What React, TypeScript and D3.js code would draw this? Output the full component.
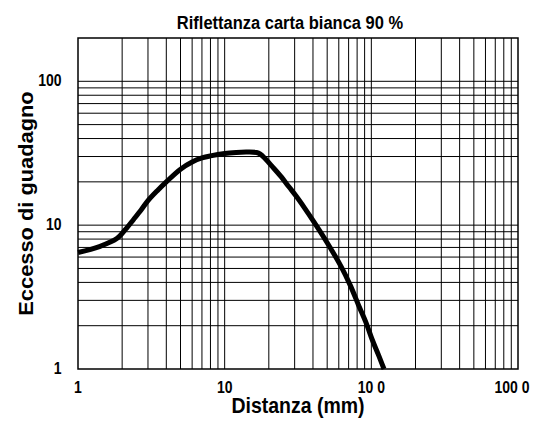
import React from "react";
import * as d3 from "d3";

// curve (distance in mm, gain excess)
const distanza = [1, 1.4, 1.85, 2.1, 2.4, 2.7, 3, 3.5, 4, 5, 6, 7, 8, 10, 12, 14, 16.5, 17.5, 19, 21, 24, 27.5, 30.6, 35, 40.7, 50, 62, 72, 82.5, 92, 101.6, 112, 122];
const guadagno = [6.45, 7.1, 8.1, 9.3, 11.0, 12.8, 14.8, 17.5, 20.0, 24.5, 27.5, 29.3, 30.3, 31.5, 32.0, 32.2, 32.0, 31.2, 28.8, 25.7, 22.0, 18.4, 16.0, 13.2, 10.5, 7.55, 5.19, 3.8, 2.72, 2.1, 1.59, 1.25, 1.0];

const xGridValues = [2, 3, 4, 5, 6, 7, 8, 9, 10, 20, 30, 40, 50, 60, 70, 80, 90, 100, 200, 300, 400, 500, 600, 700, 800, 900];
const yGridValues = [2, 3, 4, 5, 6, 7, 8, 9, 10, 20, 30, 40, 50, 60, 70, 80, 90, 100];

const xTickValues = [1, 10, 100, 1000];
const xTickLabels = ["1", "10", "10 0", "100 0"];
const yTickValues = [1, 10, 100];
const yTickLabels = ["1", "10", "100"];

const width = 534, height = 425;
const margin = { top: 38, right: 16, bottom: 56, left: 78 };
const font = "'Liberation Sans', Arial, sans-serif";
const k = 1.12; // text in the picture is a bit taller than wide

export default function App() {
    const x = d3.scaleLog()
        .domain([1, 1000])
        .range([margin.left, width - margin.right]);

    const y = d3.scaleLog()
        .domain([1, 200])
        .range([height - margin.bottom, margin.top]);

    const line = d3.line<number>()
        .x((d, i) => x(distanza[i]))
        .y(d => y(d))
        .curve(d3.curveCatmullRom.alpha(0.5));

    const [x0, x1] = x.range();
    const [y0, y1] = y.range();

    return (
        <svg width={width} height={height} style={{ position: "absolute", left: 0, top: 0, background: "#fff" }}>
            <g stroke="#000" strokeWidth={1}>
                {xGridValues.map(v => (
                    <line key={"vx" + v} x1={x(v)} x2={x(v)} y1={y0} y2={y1} />
                ))}
                {yGridValues.map(v => (
                    <line key={"hy" + v} x1={x0} x2={x1} y1={y(v)} y2={y(v)} />
                ))}
            </g>
            <rect x={x0} y={y1} width={x1 - x0} height={y0 - y1} fill="none" stroke="#000" strokeWidth={1.5} />

            <path d={line(guadagno) || ""} fill="none" stroke="#000" strokeWidth={5} />

            <g fontFamily={font} fontWeight="bold" fontSize={14} fill="#000">
                {xTickValues.map((v, i) => (
                    <text key={"xt" + v} textAnchor="middle"
                        transform={`translate(${Math.min(x(v), width - 22)},${393}) scale(1,${k})`}>
                        {xTickLabels[i]}
                    </text>
                ))}
                {yTickValues.map((v, i) => (
                    <text key={"yt" + v} textAnchor="end" transform={`translate(${61.5},${y(v) + 5}) scale(1,${k})`}>
                        {yTickLabels[i]}
                    </text>
                ))}
            </g>

            <text fontFamily={font} fontWeight="bold" fontSize={16.5} textAnchor="middle"
                transform={`translate(290,28.5) scale(1,${k})`}>
                Riflettanza carta bianca 90  %
            </text>
            <text fontFamily={font} fontWeight="bold" fontSize={19.5} textAnchor="middle"
                transform={`translate(298,413) scale(1,${k})`}>
                Distanza (mm)
            </text>
            <text fontFamily={font} fontWeight="bold" fontSize={19.5} textAnchor="middle"
                transform={`translate(33,203.5) rotate(-90) scale(${k},1)`}>
                Eccesso di guadagno
            </text>
        </svg>
    );
}
